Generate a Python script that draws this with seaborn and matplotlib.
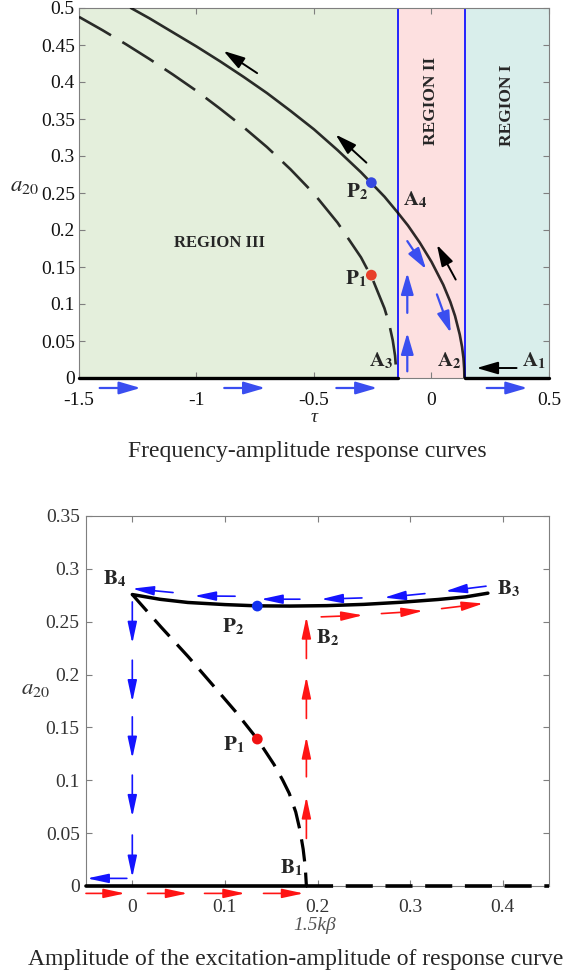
import numpy as np
import matplotlib
matplotlib.use("Agg")
import matplotlib.pyplot as plt
import seaborn as sns

# -------------------- DATOS: curva frecuencia-amplitud --------------------
tau_stable = [-1.279, -1.2, -1.1, -1.0, -0.9, -0.8, -0.7, -0.6, -0.5, -0.4, -0.3, -0.2,
              -0.145, -0.1, -0.05, 0.0, 0.05, 0.08, 0.10, 0.12, 0.13, 0.136, 0.139, 0.14]
a_stable = [0.500, 0.486, 0.467, 0.448, 0.428, 0.407, 0.385, 0.361, 0.336, 0.308, 0.278, 0.245,
            0.224, 0.206, 0.183, 0.157, 0.126, 0.103, 0.084, 0.059, 0.042, 0.027, 0.013, 0.0]
tau_unstable = [-1.5, -1.4, -1.3, -1.2, -1.1, -1.0, -0.9, -0.8, -0.7, -0.6, -0.5, -0.4,
                -0.3, -0.25, -0.2, -0.18, -0.165, -0.155, -0.151, -0.15]
a_unstable = [0.488, 0.470, 0.451, 0.431, 0.410, 0.388, 0.364, 0.339, 0.312, 0.282, 0.249, 0.210,
              0.163, 0.133, 0.094, 0.073, 0.051, 0.030, 0.013, 0.0]
tau_bounds = [-1.5, -0.142, 0.142, 0.5]
region_names = ["REGION III", "REGION II", "REGION I"]
tau_points = [-0.256, -0.256]
a_points = [0.139, 0.264]

# flechas (cola x, cola y, punta x, punta y)
top_blue_arrows = [(-1.412, -0.0135, -1.238, -0.0135), (-0.882, -0.0135, -0.708, -0.0135),
                   (-0.405, -0.0135, -0.231, -0.0135), (0.235, -0.0135, 0.408, -0.0135),
                   (-0.103, 0.009, -0.103, 0.061), (-0.103, 0.088, -0.103, 0.142),
                   (-0.103, 0.185, -0.023, 0.147), (0.023, 0.113, 0.082, 0.061)]
top_black_arrows = [(-0.742, 0.412, -0.885, 0.442), (-0.277, 0.291, -0.408, 0.329),
                    (0.103, 0.133, 0.023, 0.180), (0.362, 0.0135, 0.192, 0.0135)]
top_labels = [("P", "2", -0.318, 0.251), ("A", "4", -0.069, 0.241), ("P", "1", -0.323, 0.134),
              ("A", "3", -0.215, 0.0225), ("A", "2", 0.074, 0.0225), ("A", "1", 0.435, 0.0225)]

# -------------------- DATOS: excitacion-amplitud --------------------
k_stable = [0.0, 0.03, 0.06, 0.10, 0.135, 0.17, 0.21, 0.25, 0.29, 0.33, 0.36, 0.384]
b_stable = [0.2757, 0.2712, 0.2682, 0.2662, 0.2650, 0.2648, 0.2652, 0.2664, 0.2684, 0.2710, 0.2735, 0.2770]
k_unstable = [0.0, 0.031, 0.0605, 0.087, 0.1115, 0.135, 0.153, 0.1625, 0.1695, 0.1765,
              0.181, 0.1845, 0.1868, 0.188]
b_unstable = [0.2757, 0.245, 0.2168, 0.19, 0.165, 0.139, 0.115, 0.1, 0.0876, 0.07,
              0.053, 0.035, 0.018, 0.0]
k_points = [0.135, 0.135]
b_points = [0.139, 0.2648]
k_jump = 0.188

bot_red_arrows = [(-0.05, -0.007, -0.0078, -0.007), (0.0164, -0.007, 0.0597, -0.007),
                  (0.078, -0.007, 0.1218, -0.007), (0.1417, -0.007, 0.185, -0.007),
                  (0.188, 0.045, 0.188, 0.0844), (0.188, 0.1033, 0.188, 0.1411),
                  (0.188, 0.1585, 0.188, 0.1979), (0.188, 0.2152, 0.188, 0.2546),
                  (0.204, 0.2546, 0.249, 0.2561), (0.269, 0.2577, 0.314, 0.2602),
                  (0.334, 0.2624, 0.379, 0.2672)]
bot_blue_arrows = [(-0.0059, 0.0072, -0.0488, 0.0072),
                   (0.0, 0.2687, 0.0, 0.2294), (0.0, 0.2136, 0.0, 0.1742), (0.0, 0.160, 0.0, 0.1207),
                   (0.0, 0.1049, 0.0, 0.0655), (0.0, 0.0482, 0.0, 0.0082),
                   (0.382, 0.2836, 0.338, 0.2788), (0.316, 0.2766, 0.272, 0.2728),
                   (0.248, 0.2725, 0.204, 0.2713), (0.181, 0.2713, 0.139, 0.2713),
                   (0.111, 0.2741, 0.067, 0.2744), (0.044, 0.2776, 0.0, 0.2813)]
bot_labels = [("B", "4", -0.0195, 0.290), ("B", "3", 0.406, 0.281), ("P", "2", 0.109, 0.245),
              ("B", "2", 0.211, 0.235), ("P", "1", 0.110, 0.133), ("B", "1", 0.172, 0.0167)]

# -------------------- ESTILO --------------------
sns.set_theme(style="ticks")
plt.rcParams["font.family"] = ["Liberation Serif", "DejaVu Serif"]
plt.rcParams["mathtext.fontset"] = "stix"

fig = plt.figure(figsize=(5.67, 9.75), dpi=100)
ax1 = fig.add_axes([79 / 567, 597 / 975, 470 / 567, 370 / 975])
ax2 = fig.add_axes([86 / 567, 89 / 975, 463 / 567, 370 / 975])


def arrow(ax, t, color, lw=1.6, hl=1.3, hw=0.38):
    ax.annotate("", xy=(t[2], t[3]), xytext=(t[0], t[1]), annotation_clip=False,
                arrowprops=dict(arrowstyle=f"-|>,head_length={hl},head_width={hw}",
                                color=color, lw=lw, shrinkA=0, shrinkB=0,
                                mutation_scale=10), zorder=6)


def style_axes(ax, pad_x, pad_y, label_color):
    for s in ax.spines.values():
        s.set_color("#7f7f7f")
        s.set_linewidth(0.8)
        s.set_visible(True)
    ax.tick_params(direction="in", top=True, right=True, length=4, width=0.8,
                   color="#7f7f7f", labelsize=14, labelcolor=label_color)
    ax.tick_params(axis="x", pad=pad_x)
    ax.tick_params(axis="y", pad=pad_y)


# -------------------- GRAFICA 1 --------------------
bg_colors = ["#e4efdc", "#fde0e0", "#d9eeeb"]
for i in range(3):
    ax1.axvspan(tau_bounds[i], tau_bounds[i + 1], color=bg_colors[i], lw=0, zorder=0)
for t in tau_bounds[1:3]:
    ax1.axvline(t, color="#1414ff", lw=1.3, zorder=2)

sns.lineplot(x=tau_stable, y=a_stable, ax=ax1, color="black", alpha=0.82, lw=1.9,
             sort=False, errorbar=None, zorder=3)
sns.lineplot(x=tau_unstable, y=a_unstable, ax=ax1, color="black", alpha=0.82, lw=1.9,
             linestyle=(0, (14, 5)), sort=False, errorbar=None, zorder=3)
sns.lineplot(x=[tau_bounds[0], tau_bounds[1]], y=[0, 0], ax=ax1, color="black", lw=2.4,
             errorbar=None, zorder=4, clip_on=False)
sns.lineplot(x=[tau_bounds[2], tau_bounds[3]], y=[0, 0], ax=ax1, color="black", lw=2.4,
             errorbar=None, zorder=4, clip_on=False)
sns.scatterplot(x=tau_points, y=a_points, ax=ax1, hue=["P1", "P2"],
                palette=["#e8402a", "#3548e0"], s=60, edgecolor="none", legend=False, zorder=5)

for t in top_blue_arrows:
    arrow(ax1, t, "#3a4ef0")
for t in top_black_arrows:
    arrow(ax1, t, "black", lw=1.4)

for name, sub, x, y in top_labels:
    ax1.text(x, y, rf"$\mathbf{{{name}}}_\mathbf{{{sub}}}$", fontsize=15, ha="center",
             va="center", zorder=7)
ax1.text(-0.9, 0.183, region_names[0], fontsize=12, fontweight="bold", ha="center", va="center")
ax1.text(0.0, 0.374, region_names[1], fontsize=12.5, fontweight="bold", ha="center",
         va="center", rotation=90)
ax1.text(0.323, 0.369, region_names[2], fontsize=12.5, fontweight="bold", ha="center",
         va="center", rotation=90)

ax1.set_xlim(-1.5, 0.5)
ax1.set_ylim(0, 0.5)
ax1.set_xticks([-1.5, -1, -0.5, 0, 0.5], ["-1.5", "-1", "-0.5", "0", "0.5"])
ax1.set_yticks(np.arange(0, 0.501, 0.05), ["0", "0.05", "0.1", "0.15", "0.2", "0.25",
                                             "0.3", "0.35", "0.4", "0.45", "0.5"])
style_axes(ax1, 10, 3, "#111111")
ax1.set_xlabel("τ", fontsize=14, style="italic")
ax1.xaxis.set_label_coords(0.5, -0.085)
ax1.set_ylabel(r"$\mathit{a}_{\mathit{20}}$", fontsize=16.5, rotation=0, va="center", ha="center")
ax1.yaxis.set_label_coords(-0.115, 0.52)

fig.text(307 / 567, 1 - 452 / 975, "Frequency-amplitude response curves", fontsize=17,
         ha="center", va="center")

# -------------------- GRAFICA 2 --------------------
sns.lineplot(x=k_stable, y=b_stable, ax=ax2, color="black", lw=2.5, sort=False,
             errorbar=None, zorder=3)
sns.lineplot(x=k_unstable, y=b_unstable, ax=ax2, color="black", lw=2.3,
             linestyle=(0, (7, 3.5)), sort=False, errorbar=None, zorder=3)
sns.lineplot(x=[-0.05, k_jump], y=[0, 0], ax=ax2, color="black", lw=2.6, errorbar=None,
             zorder=4, clip_on=False)
sns.lineplot(x=[k_jump, 0.45], y=[0, 0], ax=ax2, color="black", lw=2.6,
             linestyle=(0, (7.5, 3.5)), errorbar=None, zorder=4, clip_on=False)
sns.scatterplot(x=k_points, y=b_points, ax=ax2, hue=["P1", "P2"],
                palette=["#f01212", "#1030f0"], s=60, edgecolor="none", legend=False, zorder=5)

for t in bot_red_arrows:
    arrow(ax2, t, "#ff1414", lw=1.2, hl=1.3, hw=0.28)
for t in bot_blue_arrows:
    arrow(ax2, t, "#1414ff", lw=1.2, hl=1.3, hw=0.28)

for name, sub, x, y in bot_labels:
    ax2.text(x, y, rf"$\mathbf{{{name}}}_\mathbf{{{sub}}}$", fontsize=15, ha="center",
             va="center", zorder=7)

ax2.set_xlim(-0.05, 0.45)
ax2.set_ylim(0, 0.35)
ax2.set_xticks([0, 0.1, 0.2, 0.3, 0.4], ["0", "0.1", "0.2", "0.3", "0.4"])
ax2.set_yticks(np.arange(0, 0.351, 0.05), ["0", "0.05", "0.1", "0.15", "0.2", "0.25",
                                             "0.3", "0.35"])
style_axes(ax2, 9.5, 4.5, "#333333")
ax2.set_xlabel("1.5kβ", fontsize=14, style="italic", color="#555555")
ax2.xaxis.set_label_coords(0.494, -0.085)
ax2.set_ylabel(r"$\mathit{a}_{\mathit{20}}$", fontsize=16.5, rotation=0, va="center", ha="center",
               color="#333333")
ax2.yaxis.set_label_coords(-0.11, 0.535)

fig.text(28 / 567, 1 - 960 / 975, "Amplitude of the excitation-amplitude of response curve",
         fontsize=17, ha="left", va="center")

plt.savefig("out.png", dpi=100)
plt.close()
